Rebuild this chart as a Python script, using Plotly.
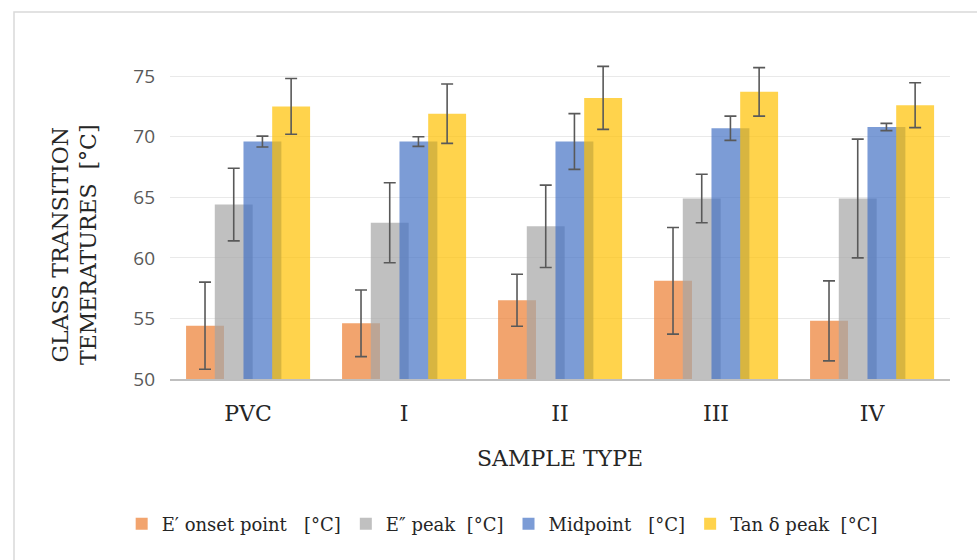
import plotly.graph_objects as go

categories = ["PVC", "I", "II", "III", "IV"]
series_names = ["E′ onset point   [°C]", "E″ peak  [°C]", "Midpoint   [°C]", "Tan δ peak  [°C]"]
onset = [54.4, 54.6, 56.5, 58.1, 54.8]
onset_err = [3.6, 2.75, 2.15, 4.4, 3.3]
epeak = [64.4, 62.9, 62.6, 64.9, 64.9]
epeak_err = [3.0, 3.3, 3.4, 2.0, 4.9]
midpoint = [69.6, 69.6, 69.6, 70.7, 70.8]
midpoint_err = [0.45, 0.4, 2.3, 1.0, 0.3]
tand = [72.5, 71.9, 73.2, 73.7, 72.6]
tand_err = [2.3, 2.45, 2.6, 2.0, 1.85]

values = [onset, epeak, midpoint, tand]
errors = [onset_err, epeak_err, midpoint_err, tand_err]
colors = ["rgba(237,125,49,0.7)", "rgba(165,165,165,0.7)", "rgba(68,114,196,0.7)", "rgba(255,192,0,0.7)"]
offsets = [-0.397, -0.213, -0.029, 0.155]
bar_w = 0.243

serif = "DejaVu Serif"
fig = go.Figure()
for name, v, e, c, off in zip(series_names, values, errors, colors, offsets):
    fig.add_trace(go.Bar(
        x=categories, y=v, name=name,
        marker=dict(color=c, line=dict(width=0)),
        offset=off, width=bar_w,
        error_y=dict(type="data", array=e, visible=True, color="#595959", thickness=1.6, width=6),
        cliponaxis=False,
    ))

fig.update_layout(
    width=977, height=560,
    barmode="overlay",
    paper_bgcolor="white", plot_bgcolor="white",
    margin=dict(l=170, r=27, t=64, b=181),
    showlegend=True,
    legend=dict(orientation="h", xref="container", yref="container", x=0.514, y=0.064,
                xanchor="center", yanchor="middle",
                font=dict(family=serif, size=18, color="#262626"),
                itemwidth=30, traceorder="normal"),
    xaxis=dict(type="category", showgrid=False, showline=True, linecolor="#BFBFBF", linewidth=2,
               ticks="", tickfont=dict(family=serif, size=22, color="#262626"), ticklabelstandoff=14),
    yaxis=dict(range=[50, 76], tickvals=[50, 55, 60, 65, 70, 75], showgrid=True, gridcolor="#E9E9E9",
               gridwidth=1, zeroline=False, showline=False, ticks="",
               tickfont=dict(family="Open Sans", size=19, color="#595959"), ticklabelstandoff=14),
    annotations=[
        dict(text="GLASS TRANSITION<br>TEMERATURES  [°C]", xref="paper", yref="paper", x=-0.122, y=0.425,
             xanchor="center", yanchor="middle", textangle=-90, showarrow=False,
             font=dict(family=serif, size=22, color="#262626")),
        dict(text="SAMPLE TYPE", xref="paper", yref="paper", x=0.5, y=-0.251,
             xanchor="center", yanchor="middle", showarrow=False,
             font=dict(family=serif, size=22, color="#262626")),
    ],
    shapes=[dict(type="rect", xref="paper", yref="paper", x0=-0.2, x1=1.2, y0=-0.8, y1=1.165,
                 line=dict(color="#D9D9D9", width=1.5), fillcolor="rgba(0,0,0,0)", layer="below")],
)

fig.write_html("out.html")
